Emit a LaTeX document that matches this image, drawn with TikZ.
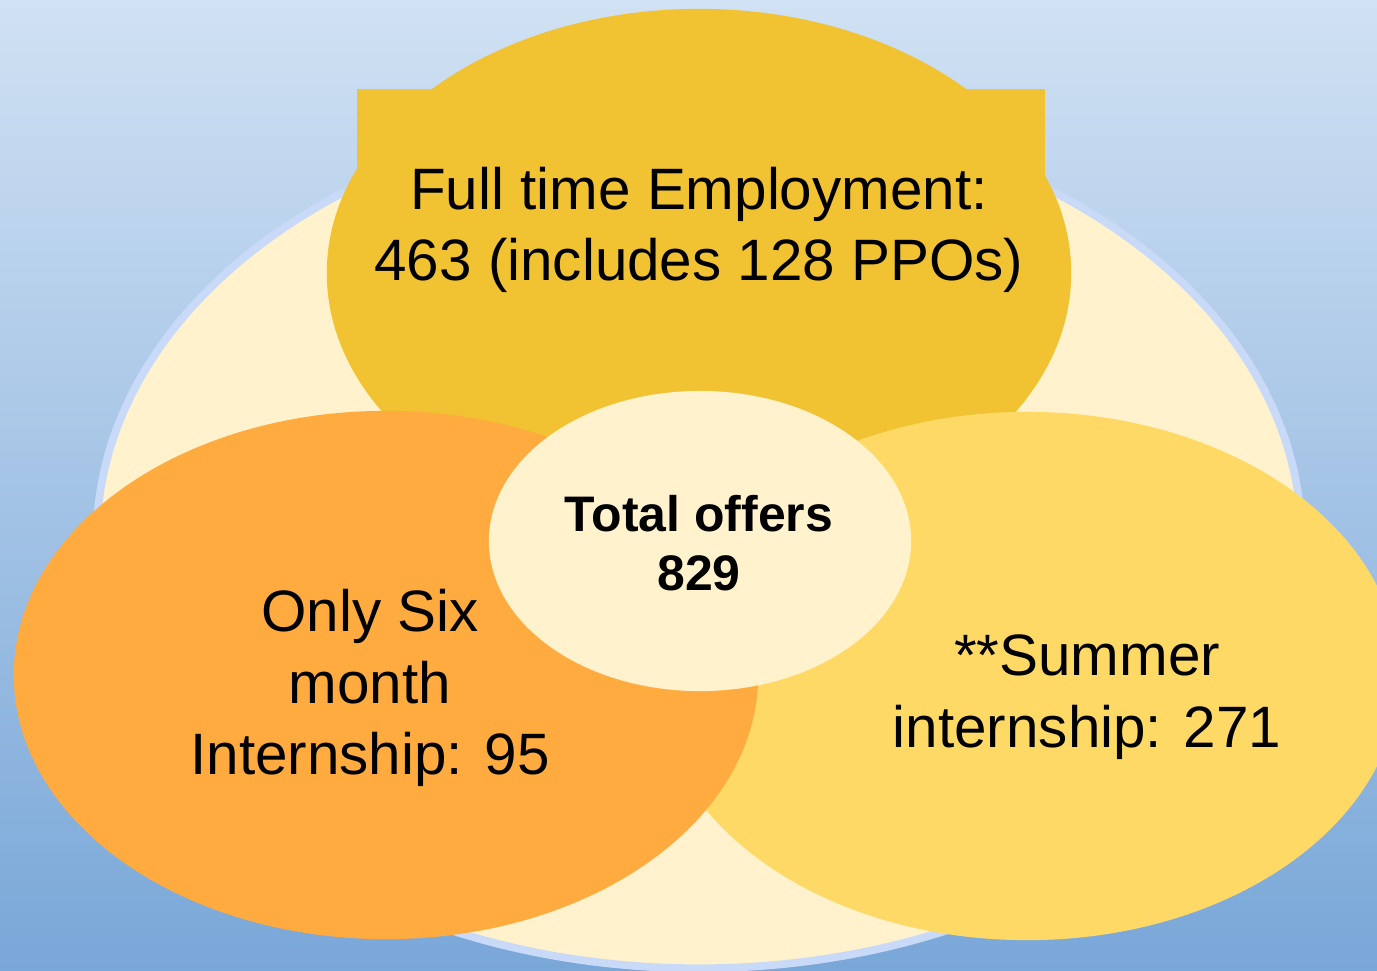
\documentclass[tikz,border=0pt]{standalone}
\usepackage{fontspec}
\setmainfont{Liberation Sans}
\usetikzlibrary{shapes.geometric}

\definecolor{skytop}{HTML}{D0E1F3}
\definecolor{skybottom}{HTML}{79A7D8}
\definecolor{cream}{HTML}{FFF2CC}
\definecolor{rim}{HTML}{C9DAF8}
\definecolor{gold}{HTML}{F1C232}
\definecolor{sunny}{HTML}{FFD966}
\definecolor{tangerine}{HTML}{FFAB40}

\tikzset{
	blob/.style = {ellipse, inner sep = 0pt, outer sep = 0pt},
	bigblob/.style = {blob, minimum width = 7.44cm, minimum height = 5.28cm},
	lbl/.style = {align = center, inner sep = 0pt, font = \fontsize{16.6}{20.3}\selectfont},
	hub/.style = {align = center, inner sep = 0pt, font = \fontsize{14.2}{16.8}\selectfont\bfseries}
}

\begin{document}
\begin{tikzpicture}[x = 0.01cm, y = -0.01cm]
	\useasboundingbox (0, 0) rectangle (1377, 970);
	\clip (0, 0) rectangle (1377, 970);
	\shade[top color = skytop, bottom color = skybottom] (0, 0) rectangle (1377, 970);
	
	\node[blob, fill = cream, draw = rim, line width = 2.2pt, minimum width = 12.04cm, minimum height = 8.58cm] (all) at (699, 539) {};
	
	\fill[gold] (357, 89) rectangle (1045, 300);
	\node[bigblob, fill = gold] (fte) at (699, 273) {};
	\node[bigblob, fill = sunny] (summer) at (1027, 676) {};
	\node[bigblob, fill = tangerine] (six) at (386, 675) {};
	\node[blob, fill = cream, minimum width = 4.22cm, minimum height = 3.00cm] (total) at (700, 541) {};
	
	\node[lbl] (fte text) at (699, 230) {Full time Employment:\\463 (includes 128 PPOs)};
	\node[lbl] (six text) at (370, 688) {Only Six\\month\\Internship: 95};
	\node[lbl] (summer text) at (1087, 697) {**Summer\\internship: 271};
	\node[hub] (total text) at (699, 543) {Total offers\\829};
\end{tikzpicture}
\end{document}
